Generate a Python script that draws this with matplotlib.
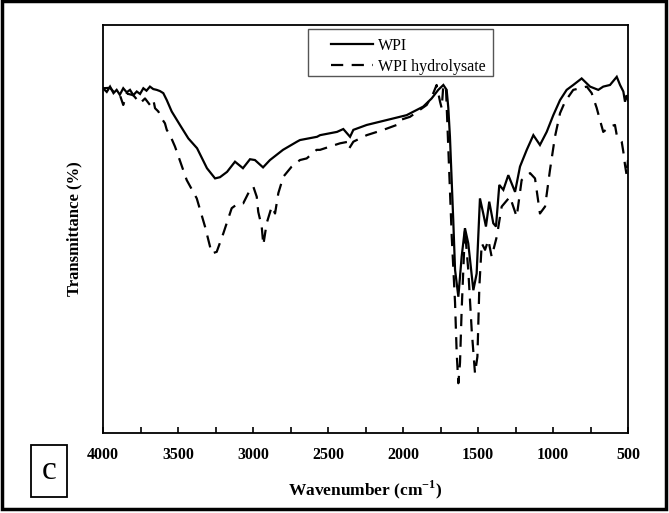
import matplotlib
matplotlib.use("Agg")
import matplotlib.pyplot as plt
from matplotlib.patches import Rectangle
from matplotlib.ticker import MultipleLocator

plt.rcParams['font.family'] = ['Liberation Serif', 'DejaVu Serif']
plt.rcParams['mathtext.fontset'] = 'custom'
plt.rcParams['mathtext.rm'] = 'Liberation Serif'
plt.rcParams['mathtext.bf'] = 'Liberation Serif:bold'

# WPI (solid)
wpi_wn = [4000, 3975, 3953, 3930, 3909, 3888, 3865, 3842, 3820, 3798, 3775, 3753,
          3731, 3710, 3687, 3665, 3642, 3620, 3598, 3575, 3542, 3487, 3431, 3373,
          3307, 3253, 3220, 3173, 3120, 3067, 3020, 2987, 2933, 2887, 2800, 2707,
          2687, 2573, 2553, 2440, 2398, 2353, 2331, 2242, 2109, 1976, 1865, 1809,
          1765, 1731, 1709, 1698, 1687, 1665, 1653, 1631, 1609, 1587, 1565, 1531,
          1509, 1487, 1465, 1447, 1425, 1398, 1380, 1358, 1331, 1298, 1253, 1220,
          1175, 1131, 1087, 1042, 998, 953, 909, 865, 809, 753, 698, 665, 620, 575,
          553, 531, 520, 509, 500]
wpi_t = [84.5, 83.6, 84.9, 83.3, 84.1, 82.9, 84.5, 83.5, 84.1, 82.8, 83.7, 83.1,
         84.5, 83.9, 84.9, 84.3, 84.1, 83.8, 83.3, 81.6, 78.8, 75.5, 72.2, 69.8,
         64.9, 62.4, 62.7, 64.0, 66.5, 64.9, 67.1, 66.9, 65.1, 66.9, 69.4, 71.4,
         71.8, 72.6, 73.0, 73.8, 74.5, 72.6, 74.3, 75.5, 76.7, 77.9, 80.0, 82.0,
         84.1, 85.3, 84.1, 79.7, 72.6, 52.2, 40.0, 33.4, 43.2, 50.2, 46.5, 35.0,
         39.1, 57.5, 53.8, 50.6, 56.7, 51.4, 50.6, 60.8, 59.6, 63.2, 59.1, 65.3,
         69.4, 73.0, 70.6, 73.8, 77.9, 81.6, 84.1, 85.3, 86.9, 84.9, 84.1, 84.9,
         85.3, 87.3, 85.3, 83.7, 81.2, 82.8, 81.6]

# WPI hydrolysate (dashed)
hyd_wn = [4000, 3953, 3931, 3887, 3865, 3842, 3798, 3753, 3720, 3687, 3664, 3653,
          3631, 3609, 3587, 3575, 3553, 3520, 3442, 3375, 3320, 3275, 3242, 3198,
          3142, 3098, 3065, 3020, 2998, 2975, 2965, 2942, 2931, 2909, 2875, 2853,
          2831, 2798, 2742, 2687, 2642, 2576, 2553, 2487, 2420, 2364, 2358, 2331,
          2242, 2131, 2042, 2020, 1953, 1842, 1798, 1776, 1753, 1742, 1731, 1713,
          1675, 1653, 1642, 1631, 1620, 1609, 1587, 1565, 1542, 1520, 1504, 1491,
          1475, 1453, 1431, 1409, 1375, 1342, 1287, 1242, 1209, 1153, 1120, 1087,
          1053, 1020, 987, 953, 920, 865, 775, 742, 709, 687, 665, 620, 587, 575,
          542, 531, 520, 509, 500]
hyd_t = [84.5, 84.6, 83.7, 82.8, 80.4, 83.2, 82.8, 80.8, 82.0, 80.4, 81.6, 79.6,
         78.8, 77.1, 75.9, 74.3, 73.0, 70.2, 62.0, 57.5, 50.6, 44.0, 44.4, 48.9,
         55.1, 56.3, 56.3, 59.6, 60.4, 57.9, 54.2, 50.6, 46.1, 51.4, 55.5, 53.8,
         58.8, 62.8, 65.3, 66.9, 67.3, 69.4, 69.4, 70.2, 71.0, 71.4, 69.8, 71.4,
         73.0, 74.3, 75.5, 76.7, 77.5, 80.4, 83.3, 85.3, 81.2, 79.6, 85.3, 84.1,
         48.1, 31.9, 19.5, 12.2, 17.2, 30.1, 49.8, 40.0, 25.2, 14.6, 18.7, 35.9,
         46.5, 44.9, 47.3, 43.2, 48.1, 55.5, 57.9, 53.0, 62.0, 63.7, 62.4, 53.8,
         55.5, 64.5, 72.6, 78.4, 81.2, 84.1, 84.9, 83.3, 79.7, 76.7, 73.8, 75.1,
         75.5, 73.0, 71.4, 68.9, 65.7, 63.2, 66.9]

series_labels = ['WPI', 'WPI hydrolysate']
xticks = [4000, 3500, 3000, 2500, 2000, 1500, 1000, 500]

W, H = 669, 513
fig = plt.figure(figsize=(W / 100, H / 100), dpi=100)
ax = fig.add_axes([103/W, 80/H, 525/W, 408/H])

ax.plot(wpi_wn, wpi_t, color='black', lw=1.6, solid_joinstyle='miter',
        label=series_labels[0])
ax.plot(hyd_wn, hyd_t, color='black', lw=1.6, dashes=(5.5, 3.8),
        label=series_labels[1])

ax.set_xlim(4000, 500)
ax.set_ylim(0, 100)
ax.set_xticks(xticks)
ax.set_xticklabels([str(v) for v in xticks], fontweight='bold', fontsize=11.5)
ax.xaxis.set_minor_locator(MultipleLocator(250))
ax.tick_params(axis='x', which='both', direction='in', length=4, width=1.2,
               top=False, pad=10)
ax.set_yticks([])
for s in ax.spines.values():
    s.set_linewidth(1.3)

ax.set_xlabel('Wavenumber (cm$^{\\mathbf{-1}}$)', fontweight='bold', fontsize=12.5,
              labelpad=11)
ax.set_ylabel('Transmittance (%)', fontweight='bold', fontsize=12, labelpad=15)

leg = ax.legend(loc='upper left', bbox_to_anchor=(331/W, 1 - 38/H),
                bbox_transform=fig.transFigure, fontsize=11.5,
                frameon=False, handlelength=2.6, borderpad=0, borderaxespad=0,
                labelspacing=0.3, handletextpad=0.35)
fig.patches.append(Rectangle((308/W, 1 - 76/H), 185/W, 47/H,
                             transform=fig.transFigure, fill=False,
                             ec='#555555', lw=1.0))

fig.text(49/W, 1 - 471/H, 'c', fontsize=24, ha='center', va='center',
         bbox=dict(boxstyle='square,pad=0.32', fc='white', ec='black', lw=1.3))

fig.patches.append(Rectangle((0.003, 0.008), 0.993, 0.99, transform=fig.transFigure,
                             fill=False, ec='black', lw=2.5))

fig.savefig('out.png', dpi=100)
